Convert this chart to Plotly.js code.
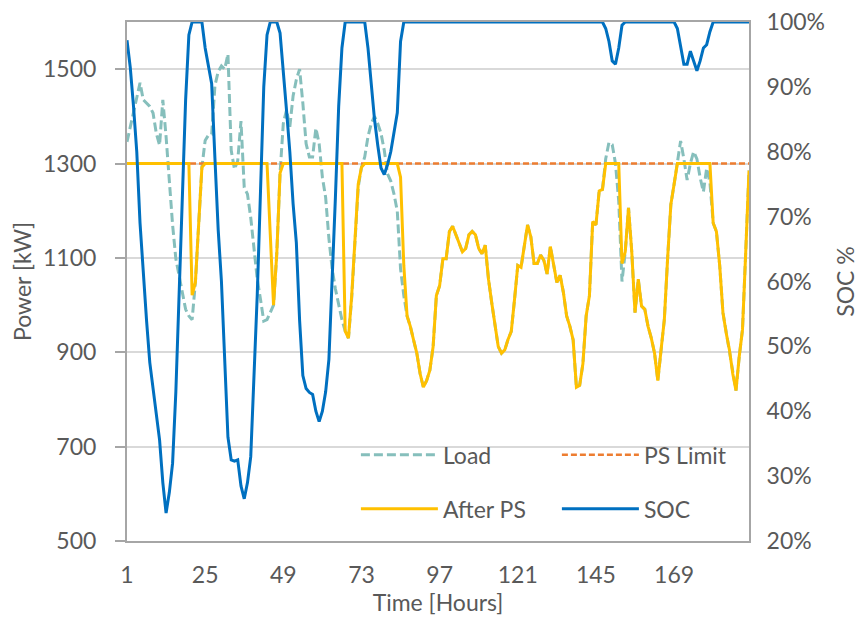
<!DOCTYPE html>
<html>
<head>
<meta charset="utf-8">
<script src="https://cdn.plot.ly/plotly-3.0.1.min.js"></script>
<style>
  html, body { margin: 0; padding: 0; background: #ffffff; }
  #chart { width: 864px; height: 623px; }
</style>
</head>
<body>
<div id="chart"></div>
<script>
// Hourly site load [kW]
const load = [
  1346, 1378, 1407, 1443, 1471, 1435, 1428, 1421, 1407, 1364,
  1339, 1435, 1357, 1256, 1170, 1098, 1063, 1020, 991, 977,
  969, 1048, 1170, 1292, 1349, 1360, 1362, 1465, 1495, 1507,
  1500, 1532, 1328, 1288, 1306, 1390, 1249, 1235, 1185, 1113,
  1055, 1012, 966, 969, 985, 1000, 1110, 1280, 1385, 1414,
  1378, 1443, 1478, 1500, 1428, 1342, 1314, 1314, 1375, 1342,
  1271, 1228, 1141, 1077, 1034, 998, 969, 945, 930, 1015,
  1125, 1250, 1292, 1314, 1357, 1385, 1400, 1385, 1364, 1328,
  1278, 1263, 1235, 1199, 1077, 1020, 977, 955, 926, 898,
  855, 826, 840, 862, 912, 1020, 1041, 1098, 1098, 1156,
  1167, 1149, 1134, 1113, 1120, 1149, 1156, 1149, 1120, 1109,
  1127, 1055, 1005, 962, 912, 898, 905, 927, 944, 1012,
  1084, 1080, 1127, 1170, 1145, 1088, 1088, 1106, 1095, 1066,
  1124, 1084, 1048, 1063, 1027, 977, 955, 926, 826, 830,
  876, 977, 1020, 1177, 1170, 1242, 1245, 1310, 1345, 1340,
  1300, 1220, 1050, 1113, 1206, 1113, 984, 1055, 998, 991,
  955, 930, 898, 840, 905, 969, 1098, 1213, 1256, 1300,
  1348, 1310, 1265, 1300, 1325, 1310, 1270, 1240, 1290, 1260,
  1174, 1156, 1084, 984, 941, 905, 855, 819, 891, 948,
  1113, 1285
];

// Grid power after peak shaving [kW]
const afterPS = [
  1300, 1300, 1300, 1300, 1300, 1300, 1300, 1300, 1300, 1300,
  1300, 1300, 1300, 1300, 1300, 1300, 1300, 1300, 1300, 1300,
  1021, 1048, 1170, 1292, 1300, 1300, 1300, 1300, 1300, 1300,
  1300, 1300, 1300, 1300, 1300, 1300, 1300, 1300, 1300, 1300,
  1300, 1300, 1300, 1300, 1149, 1000, 1110, 1280, 1300, 1300,
  1300, 1300, 1300, 1300, 1300, 1300, 1300, 1300, 1300, 1300,
  1300, 1300, 1300, 1300, 1300, 1300, 1300, 945, 930, 1020,
  1150, 1256, 1292, 1300, 1300, 1300, 1300, 1300, 1300, 1300,
  1300, 1300, 1300, 1300, 1271, 1084, 977, 955, 926, 898,
  855, 826, 840, 862, 912, 1020, 1041, 1098, 1098, 1156,
  1167, 1149, 1134, 1113, 1120, 1149, 1156, 1149, 1120, 1109,
  1127, 1055, 1005, 962, 912, 898, 905, 927, 944, 1012,
  1084, 1080, 1127, 1170, 1145, 1088, 1088, 1106, 1095, 1066,
  1124, 1084, 1048, 1063, 1027, 977, 955, 926, 826, 830,
  876, 977, 1020, 1177, 1170, 1242, 1245, 1300, 1300, 1300,
  1300, 1300, 1088, 1113, 1206, 1113, 984, 1055, 998, 991,
  955, 930, 898, 840, 905, 969, 1098, 1213, 1256, 1300,
  1300, 1300, 1300, 1300, 1300, 1300, 1300, 1300, 1300, 1300,
  1174, 1156, 1084, 984, 941, 905, 855, 819, 891, 948,
  1113, 1285
];

// Battery state of charge [%]
const soc = [
  97.2, 93, 87, 80, 69, 61, 54, 47.5, 43.5, 39,
  35.6, 29, 24.3, 27.5, 32, 43, 58, 73, 88, 98,
  100, 100, 100, 100, 96, 93, 90.5, 79, 68, 60,
  48, 36, 32.5, 32.3, 32.5, 28.5, 26.5, 29, 33, 45,
  58, 74, 90, 98, 100, 100, 100, 98.3, 91.6, 86.3,
  80, 72, 66, 54, 45.5, 43.5, 42.9, 42.6, 40, 38.4,
  40, 43, 48, 60, 73, 87, 96, 100, 100, 100,
  100, 100, 100, 100, 96, 90, 85, 81, 77.5, 76.5,
  78, 80, 83, 86, 97, 100, 100, 100, 100, 100,
  100, 100, 100, 100, 100, 100, 100, 100, 100, 100,
  100, 100, 100, 100, 100, 100, 100, 100, 100, 100,
  100, 100, 100, 100, 100, 100, 100, 100, 100, 100,
  100, 100, 100, 100, 100, 100, 100, 100, 100, 100,
  100, 100, 100, 100, 100, 100, 100, 100, 100, 100,
  100, 100, 100, 100, 100, 100, 100, 99, 97, 94,
  93.5, 96, 99.5, 100, 100, 100, 100, 100, 100, 100,
  100, 100, 100, 100, 100, 100, 100, 100, 100, 99,
  96.5, 93.5, 93.5, 95.5, 94, 92.5, 94, 96, 96.5, 98.5,
  100, 100, 100, 100, 100, 100, 100, 100, 100, 100,
  100, 100
];

// Peak-shaving limit [kW], held over the whole period
const psLimit = [1300, 1300];

const hourTicks = [1, 25, 49, 73, 97, 121, 145, 169];
const powerTicks = [500, 700, 900, 1100, 1300, 1500];
const socTicks = [20, 30, 40, 50, 60, 70, 80, 90, 100];
const socTickText = socTicks.map(v => v + '%');

const hours = load.map((_, i) => i + 1);
const limitHours = [hours[0], hours[hours.length - 1]];

const FONT = 'Lato, "Open Sans", sans-serif';
const TXT = '#595959';
const FS = 23;

const traces = [
  {
    x: hours, y: load, name: 'Load', type: 'scatter', mode: 'lines',
    line: { color: '#86BFBC', width: 3, dash: '9px,4px' },
    legend: 'legend'
  },
  {
    x: limitHours, y: psLimit, name: 'PS Limit', type: 'scatter', mode: 'lines',
    line: { color: '#ED7D31', width: 2.5, dash: '6px,3px' },
    legend: 'legend'
  },
  {
    x: hours, y: afterPS, name: 'After PS', type: 'scatter', mode: 'lines',
    line: { color: '#FFC000', width: 3 },
    legend: 'legend2'
  },
  {
    x: hours, y: soc, name: 'SOC', type: 'scatter', mode: 'lines',
    yaxis: 'y2',
    line: { color: '#0070C0', width: 3 },
    legend: 'legend2'
  }
];

const legendBase = {
  x: 0.368, xanchor: 'left', yanchor: 'middle',
  orientation: 'h',
  bgcolor: 'rgba(0,0,0,0)',
  font: { family: FONT, size: FS, color: TXT },
  itemwidth: 77,
  entrywidth: 109,
  traceorder: 'normal'
};

const layout = {
  width: 864, height: 623,
  margin: { l: 127, r: 115, t: 22, b: 82 },
  paper_bgcolor: '#ffffff',
  plot_bgcolor: '#ffffff',
  font: { family: FONT, size: FS, color: TXT },
  showlegend: true,
  legend: Object.assign({}, legendBase, { y: 0.166 }),
  legend2: Object.assign({}, legendBase, { y: 0.062 }),
  xaxis: {
    range: [1, 192],
    tickmode: 'array', tickvals: hourTicks,
    ticks: '', showgrid: false, zeroline: false,
    showline: true, linecolor: '#A6A6A6', linewidth: 2, mirror: true,
    ticklabelstandoff: 12,
    tickfont: { family: FONT, size: FS, color: TXT },
    title: { text: 'Time [Hours]', font: { family: FONT, size: FS, color: TXT }, standoff: 8 }
  },
  yaxis: {
    range: [500, 1600],
    tickmode: 'array', tickvals: powerTicks,
    ticks: 'outside', ticklen: 10, tickwidth: 2, tickcolor: '#A6A6A6',
    showgrid: true, gridcolor: '#D9D9D9', gridwidth: 2,
    zeroline: false,
    showline: true, linecolor: '#A6A6A6', linewidth: 2,
    ticklabelstandoff: 14,
    tickfont: { family: FONT, size: FS, color: TXT },
    title: { text: 'Power [kW]', font: { family: FONT, size: FS, color: TXT }, standoff: 5 }
  },
  yaxis2: {
    overlaying: 'y', side: 'right',
    range: [20, 100],
    tickmode: 'array', tickvals: socTicks, ticktext: socTickText,
    ticks: '', showgrid: false, zeroline: false,
    showline: true, linecolor: '#A6A6A6', linewidth: 2,
    ticklabelstandoff: 11,
    tickfont: { family: FONT, size: FS, color: TXT },
    title: { text: 'SOC %', font: { family: FONT, size: FS, color: TXT }, standoff: 14 }
  }
};

Plotly.newPlot('chart', traces, layout, { displayModeBar: false, staticPlot: true });
</script>
</body>
</html>
